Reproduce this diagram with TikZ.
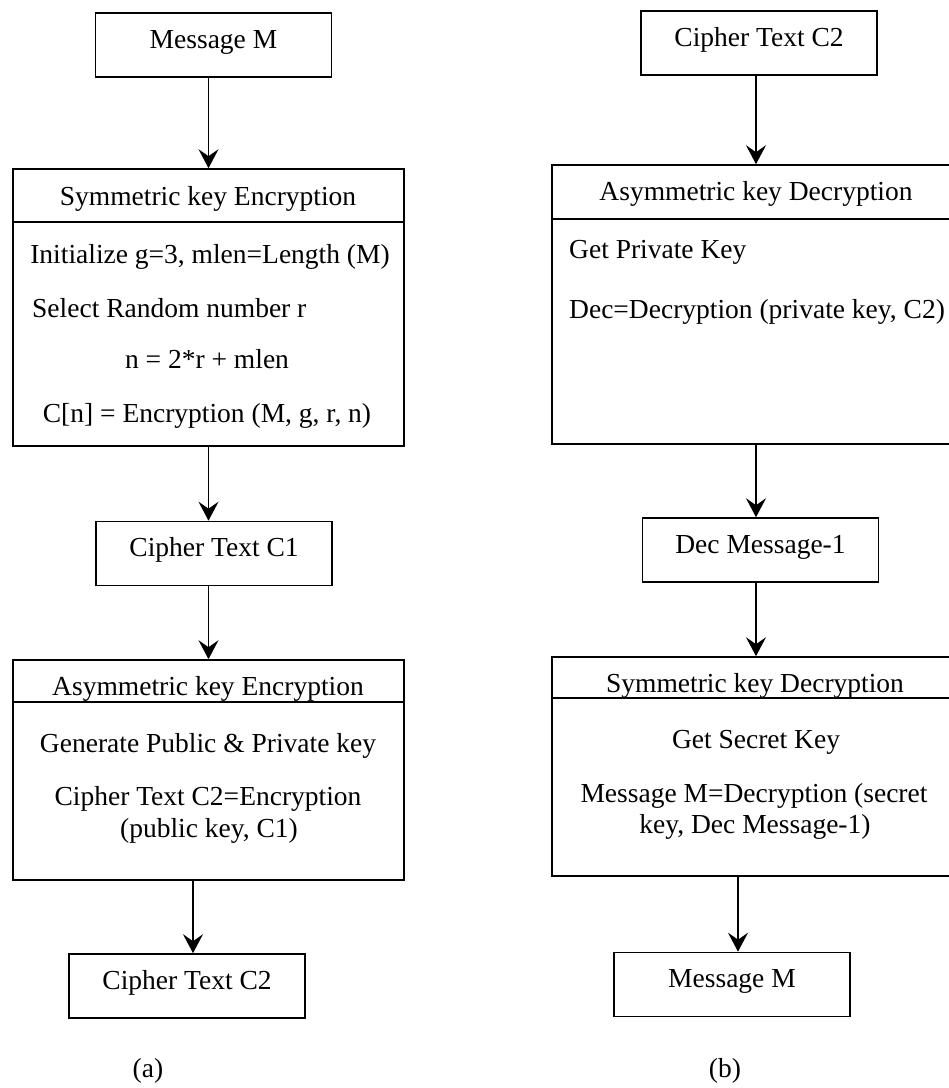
\documentclass[tikz,border=0pt]{standalone}
\usepackage{fontspec}
\setmainfont{Liberation Serif}
\usetikzlibrary{arrows.meta}

\begin{document}
\begin{tikzpicture}[x=1pt, y=-1pt, font=\fontsize{27.5}{32}\selectfont]
    \tikzstyle{box}=[draw, line width=1.6pt, inner sep=0pt, text height=19pt, text depth=13pt, minimum width=236pt, minimum height=64pt];
    \tikzstyle{bigbox}=[draw, line width=1.6pt, inner sep=0pt];
    \tikzstyle{txt}=[anchor=base, inner sep=0pt];
    \tikzstyle{arr}=[-{Stealth[length=19pt, width=20pt, inset=7pt]}, line width=1.5pt];
    \useasboundingbox (0,0) rectangle (949,1088);

    % (a) encryption
    \node[box] (msgA) at (213.5,45) {Message M};
    \node[bigbox, minimum width=391pt, minimum height=277pt] (symA) at (208.5,307.5) {};
    \node[box] (c1) at (214,553.5) {Cipher Text C1};
    \node[bigbox, minimum width=391pt, minimum height=220pt] (asymA) at (208.5,770) {};
    \node[box] (c2A) at (187,986) {Cipher Text C2};

    \coordinate (symAh) at (0,222);
    \coordinate (asymAh) at (0,702);
    \draw[line width=1.6pt] (symA.west |- symAh) -- (symA.east |- symAh);
    \draw[line width=1.6pt] (asymA.west |- asymAh) -- (asymA.east |- asymAh);

    \node[txt] (symAhd) at (208,205) {Symmetric key Encryption};
    \node[txt] (symA1) at (210,263) {Initialize g=3, mlen=Length (M)};
    \node[txt, anchor=base west] (symA2) at (32,317) {Select Random number r};
    \node[txt] (symA3) at (207,368) {n = 2*r + mlen};
    \node[txt] (symA4) at (207,422) {C[n] = Encryption (M, g, r, n)};

    \node[txt] (asymAhd) at (208,695) {Asymmetric key Encryption};
    \node[txt] (asymA1) at (208,752) {Generate Public \& Private key};
    \node[txt] (asymA2) at (208,805) {Cipher Text C2=Encryption};
    \node[txt] (asymA3) at (209,837) {(public key, C1)};

    \draw[arr] (msgA.south -| symA.north) -- (symA.north);
    \draw[arr] (symA.south) -- (symA.south |- c1.north);
    \draw[arr] (c1.south -| asymA.north) -- (asymA.north);
    \draw[arr] ([xshift=6pt]c2A.north |- asymA.south) -- ([xshift=6pt]c2A.north);

    \node[txt] (capA) at (148,1077) {(a)};

    % (b) decryption
    \node[box] (c2B) at (759,43) {Cipher Text C2};
    \node[bigbox, minimum width=408pt, minimum height=279pt] (asymB) at (756,304.5) {};
    \node[box] (decm) at (760.5,550) {Dec Message-1};
    \node[bigbox, minimum width=408pt, minimum height=219pt] (symB) at (756,766.5) {};
    \node[box] (msgB) at (732,984.5) {Message M};

    \coordinate (asymBh) at (0,219);
    \coordinate (symBh) at (0,698);
    \draw[line width=1.6pt] (asymB.west |- asymBh) -- (asymB.east |- asymBh);
    \draw[line width=1.6pt] (symB.west |- symBh) -- (symB.east |- symBh);

    \node[txt] (asymBhd) at (756,200) {Asymmetric key Decryption};
    \node[txt, anchor=base west] (asymB1) at (569,258) {Get Private Key};
    \node[txt, anchor=base west] (asymB2) at (569,318) {Dec=Decryption (private key, C2)};

    \node[txt] (symBhd) at (755,692) {Symmetric key Decryption};
    \node[txt] (symB1) at (756,748) {Get Secret Key};
    \node[txt] (symB2) at (754,802) {Message M=Decryption (secret};
    \node[txt] (symB3) at (755,833) {key, Dec Message-1)};

    \draw[arr] (c2B.south -| asymB.north) -- (asymB.north);
    \draw[arr] (asymB.south) -- (asymB.south |- decm.north);
    \draw[arr] (decm.south -| symB.north) -- (symB.north);
    \draw[arr] ([xshift=6pt]msgB.north |- symB.south) -- ([xshift=6pt]msgB.north);

    \node[txt] (capB) at (725,1077) {(b)};
\end{tikzpicture}
\end{document}
